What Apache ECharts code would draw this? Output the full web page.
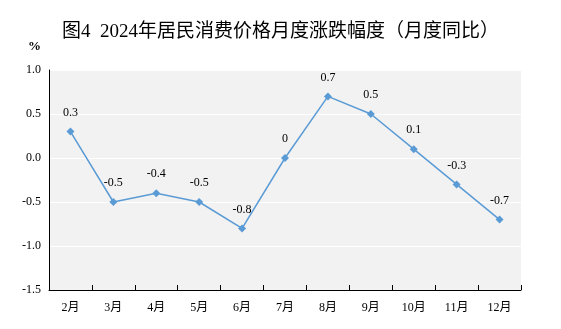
<!DOCTYPE html>
<html><head><meta charset="utf-8">
<script src="https://cdn.jsdelivr.net/npm/echarts@6/dist/echarts.min.js"></script>
<style>html,body{margin:0;padding:0;background:#fff}#c{width:561px;height:329px}</style>
</head><body><div id="c"></div>
<script>
const categories = ['2月','3月','4月','5月','6月','7月','8月','9月','10月','11月','12月'];
const values = [0.3,-0.5,-0.4,-0.5,-0.8,0,0.7,0.5,0.1,-0.3,-0.7];
const titleText = '图4  2024年居民消费价格月度涨跌幅度（月度同比）';
const FF = '"Liberation Serif", "Noto Sans CJK SC", serif';
const chart = echarts.init(document.getElementById('c'));
chart.setOption({
  animation: false,
  title: { text: titleText, left: 'center', top: 18, textStyle: { fontFamily: FF, fontSize: 19, fontWeight: 'normal', color: '#000' } },
  graphic: [{ type: 'text', left: 28, top: 40, style: { text: '%', font: 'bold 13px "Liberation Serif"', fill: '#000' } }],
  grid: { left: 49, right: 40, top: 70, bottom: 39, show: true, backgroundColor: '#f2f2f2', borderWidth: 0 },
  xAxis: {
    type: 'category', data: categories, boundaryGap: true,
    axisLine: { onZero: false, lineStyle: { color: '#000', width: 1 } },
    axisTick: { show: true, inside: true, length: 5, lineStyle: { color: '#000' } },
    axisLabel: { margin: 12, fontFamily: FF, fontSize: 12, color: '#000' }
  },
  yAxis: {
    type: 'value', min: -1.5, max: 1.0, interval: 0.5,
    axisLine: { show: true, lineStyle: { color: '#000', width: 1 } },
    axisTick: { show: false },
    splitLine: { lineStyle: { color: '#fff', width: 1 } },
    axisLabel: { margin: 8, fontFamily: FF, fontSize: 12, color: '#000', formatter: v => v.toFixed(1) }
  },
  series: [{
    type: 'line', data: values, symbol: 'diamond', symbolSize: 8,
    lineStyle: { color: '#5b9bd5', width: 1.5 }, itemStyle: { color: '#5b9bd5' },
    label: { show: true, position: 'top', distance: 9, fontFamily: FF, fontSize: 12, color: '#000' }
  }]
});
</script></body></html>
